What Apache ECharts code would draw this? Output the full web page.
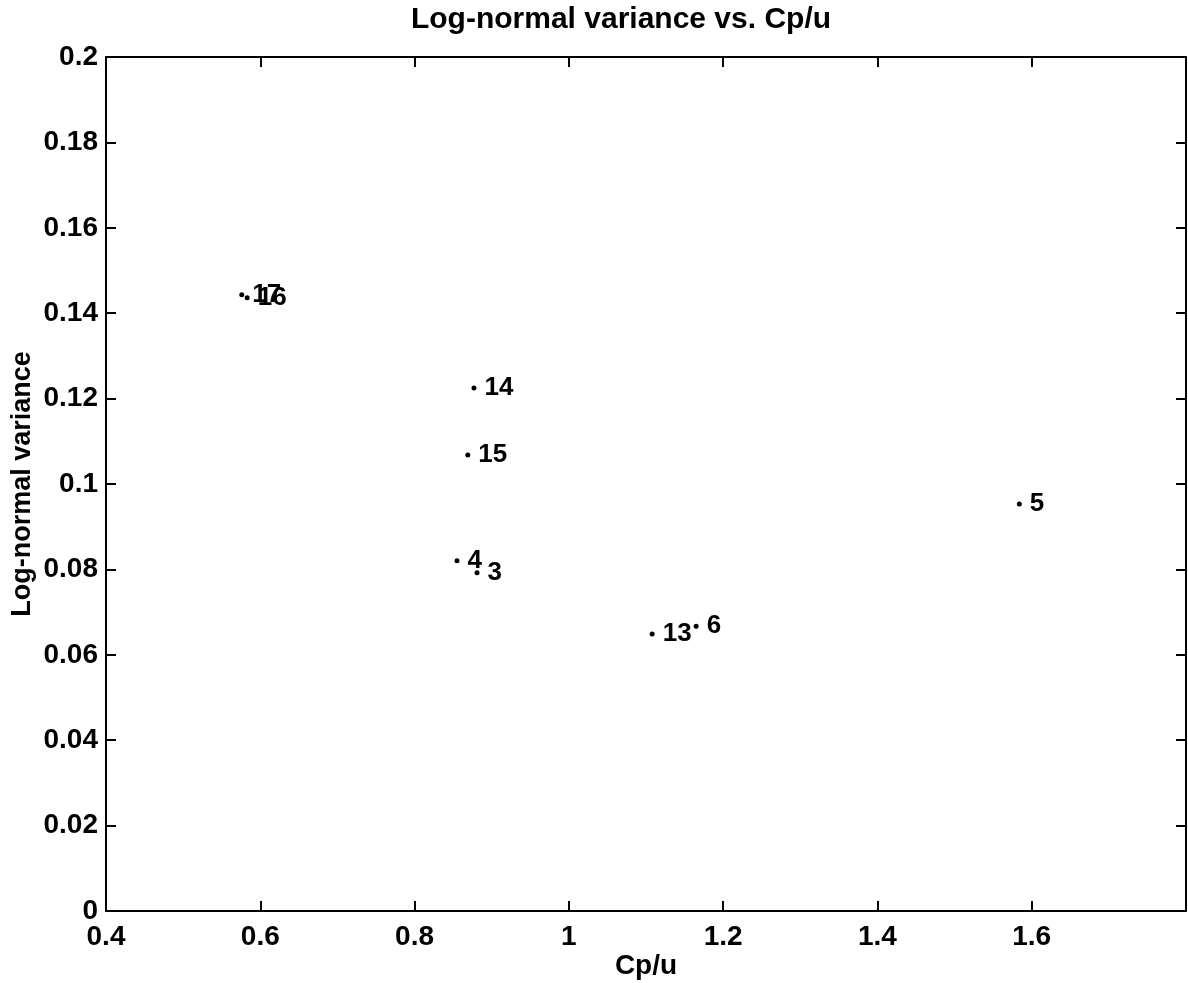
<!DOCTYPE html>
<html>
<head>
<meta charset="utf-8">
<title>Log-normal variance vs. Cp/u</title>
<script src="https://cdn.jsdelivr.net/npm/echarts@6/dist/echarts.min.js"></script>
<style>
  html, body { margin: 0; padding: 0; background: #fff; }
  #chart { width: 1188px; height: 983px; }
</style>
</head>
<body>
<div id="chart"></div>
<script>
// Point identifiers drawn next to each marker
const pointIds = ['17', '16', '14', '15', '4', '3', '13', '6', '5'];
// Cp/u for each point
const cpOverU = [0.576, 0.583, 0.877, 0.869, 0.855, 0.881, 1.108, 1.165, 1.584];
// Log-normal variance for each point
const logNormalVariance = [0.1443, 0.1436, 0.1225, 0.1068, 0.0820, 0.0792, 0.0649, 0.0667, 0.0953];

// Axis tick values
const xTicks = [0.4, 0.6, 0.8, 1.0, 1.2, 1.4, 1.6];
const yTicks = [0, 0.02, 0.04, 0.06, 0.08, 0.1, 0.12, 0.14, 0.16, 0.18, 0.2];

const FONT = "'Liberation Sans', Arial, Helvetica, sans-serif";
const INK = '#000';

const points = pointIds.map((id, i) => ({ name: id, value: [cpOverU[i], logNormalVariance[i]] }));

const fmtTick = (v, ticks) => {
  const hit = ticks.find(t => Math.abs(t - v) < 1e-9);
  return hit === undefined ? '' : String(+hit.toFixed(2));
};

// box edges with inward ticks on every side
const edgeLine = () => ({ show: true, onZero: false, lineStyle: { color: INK, width: 2 } });
const inTick = () => ({ show: true, inside: true, length: 10, lineStyle: { color: INK, width: 2 } });

const chart = echarts.init(document.getElementById('chart'), null, { renderer: 'canvas' });
chart.setOption({
  animation: false,
  backgroundColor: '#fff',
  grid: { left: 106, right: 2, top: 57, bottom: 72, containLabel: false, outerBoundsMode: 'none' },
  graphic: [{
    type: 'text',
    x: 621, y: 20,
    style: {
      text: 'Log-normal variance vs. Cp/u',
      font: 'bold 30px ' + FONT,
      fill: INK,
      textAlign: 'center',
      textVerticalAlign: 'middle'
    }
  }],
  xAxis: [{
    type: 'value', position: 'bottom',
    min: 0.4, max: 1.8, interval: 0.2,
    name: 'Cp/u', nameLocation: 'middle', nameGap: 41, nameMoveOverlap: false,
    nameTextStyle: { color: INK, fontSize: 28, fontWeight: 'bold', fontFamily: FONT },
    axisLine: edgeLine(),
    axisTick: inTick(),
    axisLabel: { color: INK, fontSize: 28, fontWeight: 'bold', fontFamily: FONT, margin: 12, formatter: v => fmtTick(v, xTicks) },
    splitLine: { show: false }
  }, {
    type: 'value', position: 'top',
    min: 0.4, max: 1.8, interval: 0.2,
    axisLine: edgeLine(),
    axisTick: inTick(),
    axisLabel: { show: false },
    splitLine: { show: false }
  }],
  yAxis: [{
    type: 'value', position: 'left',
    min: 0, max: 0.2, interval: 0.02,
    name: 'Log-normal variance', nameLocation: 'middle', nameGap: 70, nameMoveOverlap: false,
    nameTextStyle: { color: INK, fontSize: 27, fontWeight: 'bold', fontFamily: FONT },
    axisLine: edgeLine(),
    axisTick: inTick(),
    axisLabel: { color: INK, fontSize: 28, fontWeight: 'bold', fontFamily: FONT, margin: 8, formatter: v => fmtTick(v, yTicks) },
    splitLine: { show: false }
  }, {
    type: 'value', position: 'right',
    min: 0, max: 0.2, interval: 0.02,
    axisLine: edgeLine(),
    axisTick: inTick(),
    axisLabel: { show: false },
    splitLine: { show: false }
  }],
  series: [{
    type: 'scatter',
    xAxisIndex: 0, yAxisIndex: 0,
    data: points,
    symbol: 'circle',
    symbolSize: 5,
    itemStyle: { color: INK, opacity: 1 },
    label: {
      show: true,
      position: 'right',
      distance: 8,
      formatter: p => p.name,
      color: INK,
      opacity: 1,
      fontSize: 26,
      fontWeight: 'bold',
      fontFamily: FONT
    },
    labelLayout: { hideOverlap: false }
  }]
});
</script>
</body>
</html>
